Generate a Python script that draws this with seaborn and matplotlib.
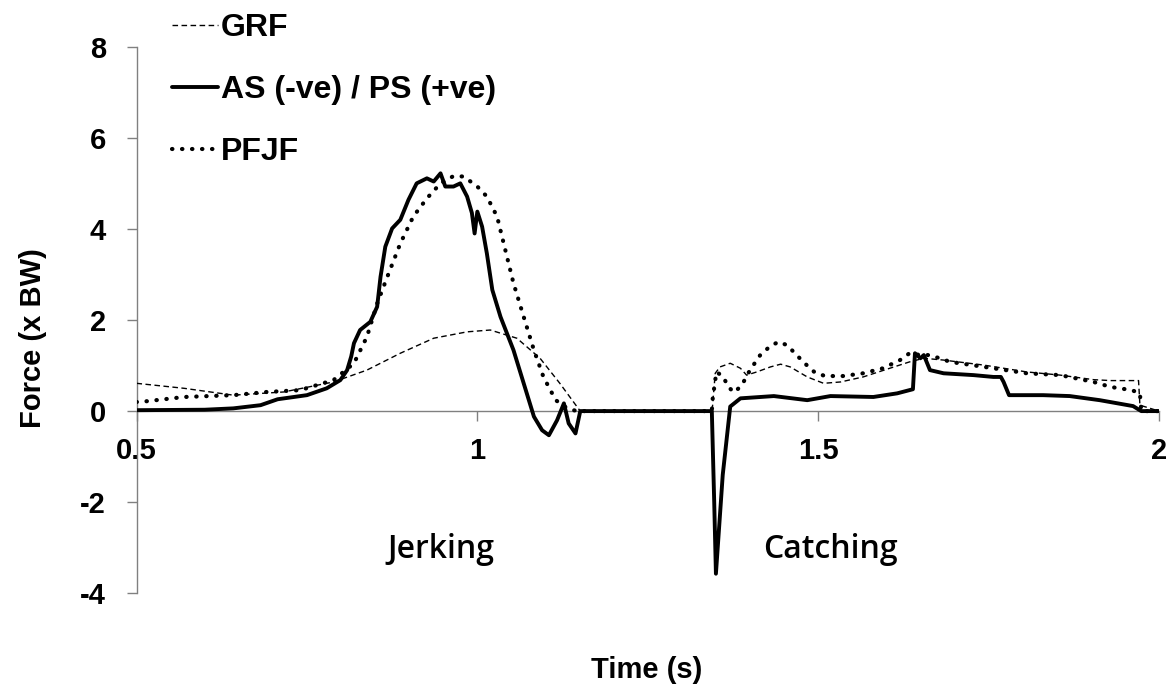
import matplotlib
matplotlib.use("Agg")
import matplotlib.pyplot as plt
import seaborn as sns
import pandas as pd

# ---- data ----
grf_t = [0.5, 0.57, 0.642, 0.716, 0.789, 0.838, 0.887, 0.936, 0.985, 1.019, 1.058, 1.092,
         1.121, 1.146, 1.151, 1.344, 1.345, 1.349, 1.356, 1.371, 1.386, 1.395, 1.410, 1.430,
         1.445, 1.459, 1.484, 1.508, 1.533, 1.566, 1.605, 1.634, 1.655, 1.684, 1.743, 1.806,
         1.855, 1.904, 1.929, 1.970, 1.972, 2.0]
grf_v = [0.61, 0.50, 0.35, 0.42, 0.64, 0.90, 1.27, 1.60, 1.74, 1.78, 1.60, 1.16,
         0.61, 0.10, 0.0, 0.0, 0.10, 0.83, 0.97, 1.05, 0.94, 0.79, 0.86, 0.97,
         1.03, 0.97, 0.75, 0.61, 0.64, 0.75, 0.94, 1.08, 1.16, 1.12, 1.01, 0.86,
         0.79, 0.69, 0.67, 0.67, 0.13, 0.0]

as_t = [0.5, 0.6, 0.642, 0.682, 0.707, 0.75, 0.779, 0.799, 0.809, 0.815, 0.819, 0.828,
        0.843, 0.853, 0.858, 0.865, 0.875, 0.887, 0.899, 0.911, 0.926, 0.936, 0.946, 0.953,
        0.965, 0.975, 0.985, 0.992, 0.996, 1.0, 1.007, 1.014, 1.022, 1.034, 1.053, 1.068,
        1.083, 1.095, 1.105, 1.117, 1.127, 1.134, 1.144, 1.151, 1.344, 1.3475, 1.350, 1.360,
        1.371, 1.386, 1.435, 1.484, 1.518, 1.581, 1.616, 1.639, 1.642, 1.650, 1.655, 1.664,
        1.684, 1.728, 1.757, 1.768, 1.772, 1.780, 1.830, 1.869, 1.913, 1.962, 1.974, 2.0]
as_v = [0.02, 0.03, 0.06, 0.13, 0.26, 0.35, 0.50, 0.68, 0.90, 1.20, 1.49, 1.78,
        1.96, 2.29, 2.95, 3.61, 4.01, 4.20, 4.64, 5.00, 5.11, 5.04, 5.22, 4.93,
        4.93, 5.00, 4.71, 4.35, 3.90, 4.38, 4.05, 3.46, 2.66, 2.07, 1.34, 0.61,
        -0.12, -0.42, -0.53, -0.20, 0.17, -0.27, -0.49, 0.0, 0.0, -2.0, -3.57, -1.4,
        0.10, 0.28, 0.33, 0.24, 0.33, 0.31, 0.39, 0.48, 1.27, 1.16, 1.23, 0.90,
        0.83, 0.79, 0.75, 0.75, 0.64, 0.35, 0.35, 0.33, 0.24, 0.11, 0.0, 0.0]

pf_t = [0.5, 0.511, 0.57, 0.642, 0.691, 0.74, 0.789, 0.819, 0.838, 0.853, 0.868, 0.887,
        0.906, 0.926, 0.946, 0.965, 0.98, 1.0, 1.014, 1.029, 1.041, 1.053, 1.068, 1.083,
        1.097, 1.115, 1.132, 1.146, 1.344, 1.345, 1.349, 1.351, 1.361, 1.368, 1.377, 1.388,
        1.400, 1.415, 1.430, 1.442, 1.454, 1.466, 1.478, 1.495, 1.510, 1.537, 1.566, 1.595,
        1.620, 1.634, 1.650, 1.664, 1.694, 1.757, 1.806, 1.855, 1.904, 1.929, 1.960, 1.972,
        1.974, 2.0]
pf_v = [0.20, 0.21, 0.31, 0.35, 0.42, 0.46, 0.68, 1.05, 1.63, 2.36, 2.95, 3.68,
        4.27, 4.67, 5.00, 5.16, 5.15, 4.93, 4.71, 4.27, 3.54, 2.81, 2.07, 1.34,
        0.75, 0.24, 0.06, 0.0, 0.0, 0.24, 0.68, 0.86, 0.75, 0.53, 0.41, 0.57,
        0.90, 1.23, 1.43, 1.52, 1.45, 1.27, 1.08, 0.85, 0.77, 0.77, 0.83, 0.94,
        1.12, 1.27, 1.23, 1.23, 1.08, 0.94, 0.83, 0.79, 0.64, 0.53, 0.46, 0.39,
        0.0, 0.0]

series_labels = ["GRF", "AS (-ve) / PS (+ve)", "PFJF"]
x_ticks = [0.5, 1, 1.5, 2]
x_tick_labels = ["0.5", "1", "1.5", "2"]
y_ticks = [-4, -2, 0, 2, 4, 6, 8]
phase_labels = ["Jerking", "Catching"]
phase_x = [0.947, 1.518]
phase_y = [-3.23, -3.23]

# ---- figure ----
sns.set_style("white")
plt.rcParams["font.family"] = ["Liberation Sans", "DejaVu Sans"]
plt.rcParams["axes.unicode_minus"] = False
plt.rcParams["text.color"] = "black"
W, H = 1172, 689
fig = plt.figure(figsize=(W / 100, H / 100), dpi=100)
ax = fig.add_axes([136.5 / W, 1 - 593.3 / H, (1159 - 136.5) / W, (593.3 - 46.7) / H])

df_g = pd.DataFrame({"t": grf_t, "f": grf_v})
df_a = pd.DataFrame({"t": as_t, "f": as_v})
df_p = pd.DataFrame({"t": pf_t, "f": pf_v})

sns.lineplot(data=df_g, x="t", y="f", ax=ax, color="black", lw=1.0, sort=False,
             estimator=None, label=series_labels[0], zorder=3)
sns.lineplot(data=df_a, x="t", y="f", ax=ax, color="black", lw=2.8, sort=False,
             estimator=None, label=series_labels[1], zorder=4)
sns.lineplot(data=df_p, x="t", y="f", ax=ax, color="black", lw=3.0, sort=False,
             estimator=None, label=series_labels[2], zorder=5)

lines = ax.get_lines()
lines[0].set_dashes((4, 2.5))
lines[2].set_dashes((0.1, 2.3))
lines[2].set_dash_capstyle("round")
lines[1].set_solid_joinstyle("round")

ax.set_xlim(0.5, 2)
ax.set_ylim(-4, 8)
ax.set_xticks(x_ticks)
ax.set_xticklabels(x_tick_labels)
ax.set_yticks(y_ticks)
ax.set_xlabel("")
ax.set_ylabel("")

for s in ["top", "right"]:
    ax.spines[s].set_visible(False)
ax.spines["bottom"].set_position(("data", 0))
for s in ["bottom", "left"]:
    ax.spines[s].set_color("#808080")
    ax.spines[s].set_linewidth(1.0)
    ax.spines[s].set_zorder(2)

ax.tick_params(axis="x", which="major", bottom=True, direction="out", length=7, width=1,
               color="#808080", pad=12, labelsize=21, labelcolor="black")
ax.tick_params(axis="y", which="major", left=True, direction="out", length=7, width=1,
               color="#808080", pad=15, labelsize=21, labelcolor="black")
for lab in ax.get_xticklabels() + ax.get_yticklabels():
    lab.set_fontweight("bold")

for txt, px, py in zip(phase_labels, phase_x, phase_y):
    ax.text(px, py, txt, ha="center", va="baseline", fontsize=23, color="black",
            fontweight="semibold", family=["Open Sans", "DejaVu Sans"])

fig.text(33 / W, 1 - 338 / H, "Force (x BW)", rotation=90, ha="center", va="center",
         fontsize=21, fontweight="bold", color="black")
fig.text(647 / W, 1 - 670 / H, "Time (s)", ha="center", va="center",
         fontsize=21, fontweight="bold", color="black")

leg = ax.legend(loc="upper left", bbox_to_anchor=(172 / W, 1 - 13 / H),
                bbox_transform=fig.transFigure, frameon=False, borderpad=0,
                borderaxespad=0, handlelength=1.45, handletextpad=0.07,
                labelspacing=1.0, prop={"weight": "bold", "size": 23})
for t in leg.get_texts():
    t.set_color("black")

fig.savefig("out.png", dpi=100)
